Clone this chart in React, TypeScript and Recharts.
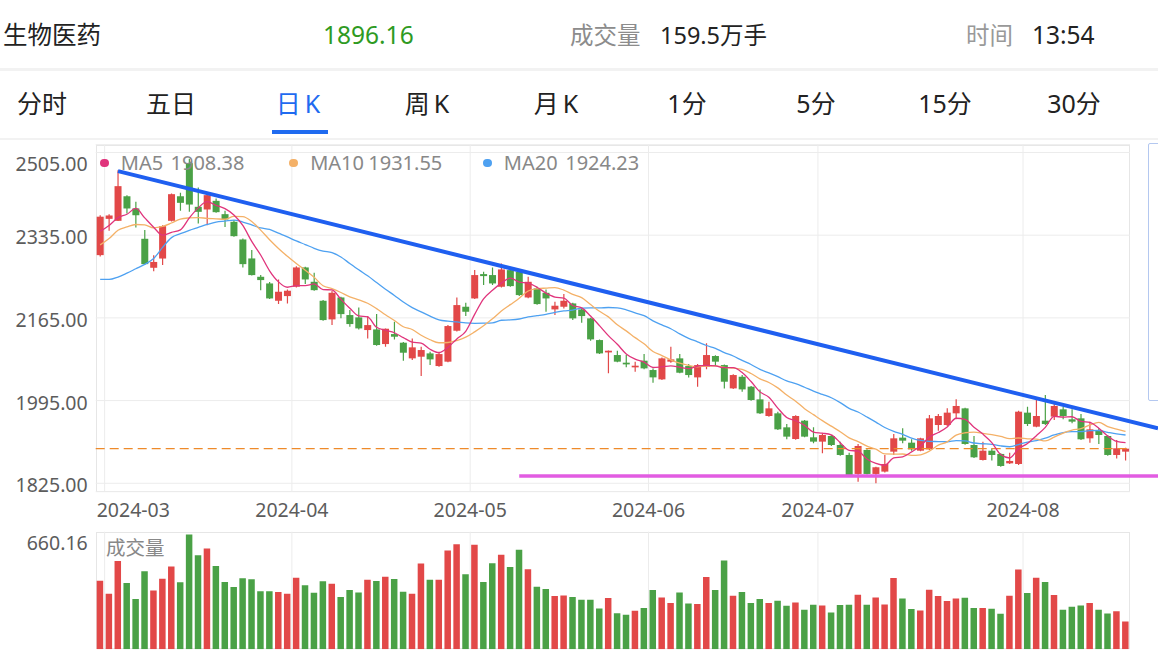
import React from 'react';
import { ComposedChart, Bar, Line, XAxis, YAxis, CartesianGrid, ReferenceLine, Cell } from 'recharts';

// trading days per month (index 0 = 2024-02-29)
const tradingDays: [string, number[]][] = [
    ['2024-02', [29]],
    ['2024-03', [1, 4, 5, 6, 7, 8, 11, 12, 13, 14, 15, 18, 19, 20, 21, 22, 25, 26, 27, 28, 29]],
    ['2024-04', [1, 2, 3, 8, 9, 10, 11, 12, 15, 16, 17, 18, 19, 22, 23, 24, 25, 26, 29, 30]],
    ['2024-05', [6, 7, 8, 9, 10, 13, 14, 15, 16, 17, 20, 21, 22, 23, 24, 27, 28, 29, 30, 31]],
    ['2024-06', [3, 4, 5, 6, 7, 11, 12, 13, 14, 17, 18, 19, 20, 21, 24, 25, 26, 27, 28]],
    ['2024-07', [1, 2, 3, 4, 5, 8, 9, 10, 11, 12, 15, 16, 17, 18, 19, 22, 23, 24, 25, 26, 29, 30, 31]],
    ['2024-08', [1, 2, 5, 6, 7, 8, 9, 12, 13, 14, 15, 16]],
];

const open = [
    2294, 2368.6, 2364.5, 2415, 2390, 2327.6, 2268, 2287, 2364.5, 2415,
    2483, 2393.3, 2387.8, 2405.6, 2378.2, 2362.5, 2326.2, 2287.2, 2249.5, 2235.8,
    2200.2, 2209.8, 2229, 2268.7, 2239.2, 2200.2, 2161.9, 2207, 2170.8, 2166,
    2140, 2141.3, 2111.2, 2131.7, 2114, 2081.8, 2085.2, 2092, 2066, 2075,
    2138.6, 2187.9, 2205, 2255, 2253, 2229, 2263.2, 2259.8, 2207, 2225.6,
    2216.6, 2182.4, 2187.9, 2194.7, 2182.4, 2164, 2119.4, 2094, 2088.6, 2072.9,
    2063.3, 2077, 2057.8, 2038.6, 2075, 2081.8, 2066, 2042.7, 2064.6, 2086.6,
    2068, 2020.1, 2044, 2023.6, 1997.5, 1963.3, 1968.8, 1940, 1916, 1953.7,
    1919.5, 1910.6, 1922.2, 1903.7, 1883.2, 1844.2, 1893.5, 1844.2, 1849, 1890,
    1918.8, 1908.5, 1892, 1894.8, 1944.8, 1944.8, 1968.8, 1979, 1903.7, 1872.9,
    1892, 1885.3, 1866, 1864.7, 1970.2, 1941.4, 1953.7, 1962, 1977, 1956.5,
    1958.5, 1917.4, 1933.2, 1922.2, 1883.2, 1890,
];
const high = [
    2376, 2378, 2468.6, 2417, 2403.6, 2345.4, 2294, 2355.6, 2420.7, 2422,
    2492, 2433, 2420.7, 2410.4, 2385, 2366, 2328, 2304.3, 2253, 2239,
    2244, 2223.5, 2271, 2270, 2257.7, 2201.6, 2220.8, 2208.4, 2181, 2186.5,
    2168.7, 2172.8, 2143.4, 2157, 2115.3, 2122.8, 2105.7, 2095.4, 2095.4, 2150.2,
    2207, 2196.1, 2263.2, 2259.8, 2268.7, 2277, 2266.6, 2263.2, 2249.5, 2229,
    2223.5, 2198.2, 2213.9, 2196.1, 2185.8, 2165.3, 2120.8, 2098, 2097.5, 2088.6,
    2075, 2090.6, 2061.2, 2083.8, 2105.7, 2090.6, 2070, 2070, 2112.6, 2088,
    2069.4, 2049, 2047.5, 2025, 2018, 1992.8, 1972.2, 1946.9, 1964.7, 1955,
    1940, 1927.7, 1924.3, 1910.6, 1888, 1905.8, 1894.8, 1859.2, 1883.2, 1926.3,
    1938, 1915.4, 1918.8, 1965.4, 1967.4, 1979, 1997.5, 1980.4, 1922.2, 1910.6,
    1896.9, 1886.6, 1888, 1974.3, 1982.5, 1997.5, 2006.4, 1988, 1982.5, 1977,
    1967.4, 1951.7, 1938, 1924.3, 1914, 1898,
];
const low = [
    2291, 2344, 2364, 2379.6, 2350.8, 2274, 2261, 2273.5, 2363, 2385,
    2383, 2359, 2355.6, 2381, 2352, 2331.7, 2268.7, 2252, 2222, 2203.6,
    2193.4, 2194.7, 2227.6, 2234.5, 2220.8, 2159, 2150.2, 2164, 2146.8, 2141,
    2122.8, 2107.8, 2105.7, 2120.8, 2077, 2078.4, 2045.5, 2068, 2064.6, 2073.6,
    2137, 2168.7, 2203.6, 2232.4, 2232.4, 2227.6, 2229, 2209.8, 2205.6, 2192,
    2177.6, 2170.8, 2184.5, 2160.5, 2155, 2118, 2090.6, 2051, 2073.6, 2063.3,
    2054.4, 2059.2, 2031.8, 2037.3, 2072.9, 2051, 2042.7, 2023.6, 2059.2, 2066,
    2020, 2019, 2013.3, 1994.8, 1967.4, 1962, 1934.5, 1915.4, 1914.7, 1919.5,
    1907.2, 1886.6, 1901.7, 1881.8, 1841, 1828.4, 1842.8, 1825, 1847, 1883.2,
    1907.2, 1892, 1891, 1893.5, 1933.2, 1942.8, 1956.5, 1904.4, 1877, 1871.6,
    1871.6, 1859.2, 1864.7, 1862.7, 1942.8, 1940, 1944.8, 1955.1, 1956.5, 1948.3,
    1914, 1908.5, 1905.8, 1881.8, 1875.7, 1871.6,
];
const close = [
    2373, 2375.5, 2435.8, 2389.9, 2376, 2275.5, 2280, 2353.6, 2419.3, 2401.5,
    2398, 2383, 2417.3, 2382.3, 2367.3, 2333, 2275.5, 2253, 2242.7, 2205,
    2218.7, 2220.8, 2268.7, 2244, 2222, 2160.5, 2216.6, 2172.8, 2152.3, 2143.4,
    2150.2, 2109.2, 2142.7, 2126.3, 2093.4, 2104.4, 2098.9, 2079.7, 2090.6, 2148.2,
    2191.3, 2177.6, 2253, 2250.9, 2235.8, 2264.6, 2230.3, 2211.9, 2239.2, 2193.4,
    2205, 2190, 2200.2, 2164, 2168.7, 2120.8, 2092, 2097.5, 2075, 2069.4,
    2066.7, 2061.2, 2042.7, 2081.8, 2079.7, 2052.3, 2047.5, 2068, 2088.6, 2075,
    2033.8, 2047.5, 2018, 1996.2, 1968.8, 1979, 1935.9, 1920.9, 1963.3, 1920.9,
    1910.6, 1924.3, 1903.7, 1883.2, 1842.1, 1901.7, 1844.2, 1857.9, 1864.7, 1917.4,
    1912.6, 1894.8, 1917.4, 1958.5, 1963.3, 1970.2, 1983.9, 1905.8, 1878.4, 1892,
    1883.2, 1860.6, 1870.9, 1972.2, 1946.9, 1963.3, 1946.9, 1983.9, 1963.3, 1951.7,
    1915.4, 1935.9, 1924.3, 1883.2, 1896.9, 1896.16,
];
// 万手
const volume = [
    394.6, 319.5, 508.1, 381.1, 288.7, 448.5, 338.7, 406.1, 475.4, 384.9,
    660.16, 540.8, 579.3, 479.3, 386.9, 358.0, 408.0, 402.3, 333.0, 333.0,
    329.1, 319.5, 411.9, 367.6, 325.3, 390.7, 377.2, 300.3, 340.7, 327.2,
    400.3, 392.6, 417.7, 404.2, 331.0, 319.5, 492.7, 400.3, 400.3, 567.8,
    604.4, 431.1, 600.5, 386.9, 494.6, 542.8, 473.5, 571.6, 460.0, 359.9,
    346.4, 306.0, 309.9, 300.3, 284.9, 284.9, 234.8, 294.5, 207.9, 198.2,
    221.3, 236.7, 340.7, 298.3, 265.6, 327.2, 263.7, 259.8, 415.7, 340.7,
    510.0, 308.0, 329.1, 265.6, 288.7, 265.6, 279.1, 250.2, 269.5, 227.1,
    256.0, 252.1, 211.7, 254.1, 256.0, 313.7, 256.0, 298.3, 257.9, 410.0,
    292.6, 231.0, 223.3, 342.6, 306.0, 277.2, 292.6, 296.4, 236.7, 236.7,
    232.9, 204.0, 308.0, 458.1, 323.3, 411.9, 386.9, 311.8, 227.1, 244.4,
    252.1, 265.6, 227.1, 205.9, 219.4, 159.5,
];
const ma5 = [
    2343, 2355, 2371, 2378, 2390.0, 2370.5, 2351.4, 2335.0, 2340.9, 2346.0,
    2370.5, 2391.1, 2403.8, 2396.4, 2389.6, 2376.6, 2355.1, 2322.2, 2294.3, 2261.8,
    2239.0, 2228.0, 2231.2, 2231.4, 2234.8, 2223.2, 2222.4, 2203.2, 2184.8, 2169.1,
    2167.1, 2145.6, 2139.6, 2134.4, 2124.4, 2115.2, 2113.1, 2100.5, 2093.4, 2104.4,
    2121.7, 2137.5, 2172.1, 2204.2, 2221.7, 2236.4, 2246.9, 2238.7, 2236.4, 2227.9,
    2216.0, 2207.9, 2205.6, 2190.5, 2185.6, 2168.7, 2149.1, 2128.6, 2110.8, 2090.9,
    2080.1, 2074.0, 2063.0, 2064.4, 2066.4, 2063.5, 2060.8, 2065.9, 2067.2, 2066.3,
    2062.6, 2062.6, 2052.6, 2034.1, 2012.9, 2001.9, 1979.6, 1960.2, 1953.6, 1944.0,
    1930.3, 1928.0, 1924.6, 1908.5, 1892.8, 1891.0, 1875.0, 1865.8, 1862.1, 1877.2,
    1879.4, 1889.5, 1901.4, 1920.1, 1929.3, 1940.8, 1958.7, 1956.3, 1940.3, 1926.1,
    1908.7, 1884.0, 1877.0, 1895.8, 1906.8, 1922.8, 1940.0, 1962.6, 1960.9, 1961.8,
    1952.2, 1950.0, 1938.1, 1922.1, 1911.1, 1908.38,
];
const ma10 = [
    2315, 2328, 2345, 2352, 2357, 2356, 2350, 2353, 2360, 2368.0,
    2370.5, 2371.3, 2369.4, 2368.7, 2367.8, 2373.5, 2373.1, 2363.0, 2345.4, 2325.7,
    2307.8, 2291.6, 2276.7, 2262.9, 2248.3, 2231.1, 2225.2, 2217.2, 2208.1, 2202.0,
    2195.1, 2184.0, 2171.4, 2159.6, 2146.7, 2141.1, 2129.4, 2120.1, 2113.9, 2114.4,
    2118.5, 2125.3, 2136.3, 2148.8, 2163.0, 2179.1, 2192.2, 2205.4, 2220.3, 2224.8,
    2226.2, 2227.4, 2222.1, 2213.4, 2206.7, 2192.4, 2178.5, 2167.1, 2150.7, 2138.3,
    2124.4, 2111.6, 2095.8, 2087.6, 2078.7, 2071.8, 2067.4, 2064.4, 2065.8, 2066.4,
    2063.1, 2061.7, 2059.2, 2050.7, 2039.6, 2032.2, 2021.1, 2006.4, 1993.8, 1978.4,
    1966.1, 1953.8, 1942.4, 1931.1, 1918.4, 1910.7, 1901.5, 1895.2, 1885.3, 1885.0,
    1885.2, 1882.2, 1883.6, 1891.1, 1903.3, 1910.1, 1924.1, 1928.9, 1930.2, 1927.7,
    1924.8, 1921.3, 1916.7, 1918.1, 1916.4, 1915.7, 1912.0, 1919.8, 1928.3, 1934.3,
    1937.5, 1945.0, 1950.4, 1941.5, 1936.5, 1931.55,
];
const ma20 = [
    2244, 2244, 2249, 2257, 2266, 2275, 2287, 2310, 2330, 2338,
    2345, 2351, 2357, 2362, 2364, 2366, 2362, 2356, 2350, 2346.9,
    2339.1, 2331.4, 2323.1, 2315.8, 2308.1, 2302.3, 2299.1, 2290.1, 2276.8, 2263.8,
    2251.5, 2237.8, 2224.0, 2211.2, 2197.5, 2186.1, 2177.3, 2168.6, 2161.0, 2158.2,
    2156.8, 2154.6, 2153.9, 2154.2, 2154.9, 2160.1, 2160.8, 2162.7, 2167.1, 2169.6,
    2172.3, 2176.4, 2179.2, 2181.1, 2184.9, 2185.7, 2185.4, 2186.3, 2185.5, 2181.5,
    2175.3, 2169.5, 2159.0, 2150.5, 2142.7, 2132.1, 2123.0, 2115.8, 2108.2, 2102.3,
    2093.7, 2086.6, 2077.5, 2069.1, 2059.1, 2052.0, 2044.2, 2035.4, 2029.8, 2022.4,
    2014.6, 2007.7, 2000.8, 1990.9, 1979.0, 1971.5, 1961.3, 1950.8, 1939.6, 1931.7,
    1925.6, 1918.0, 1913.0, 1911.1, 1910.8, 1910.4, 1912.8, 1912.0, 1907.8, 1906.3,
    1905.0, 1901.8, 1900.1, 1904.6, 1909.8, 1912.9, 1918.0, 1924.3, 1929.3, 1931.0,
    1931.1, 1933.2, 1933.5, 1929.8, 1926.4, 1924.23,
];

const priceTicks = [1825, 1995, 2165, 2335, 2505];
const volumeMax = 660.16;
const lastPrice = 1896.16;
const tabs = ['分时', '五日', '日K', '周K', '月K', '1分', '5分', '15分', '30分'];
// drawn lines: trend line over highs, support line
const trendLine = [{ idx: 2, price: 2466.6 }, { idx: 115, price: 1954.5 }];
const supportLine = [{ idx: 47, price: 1840 }, { idx: 115, price: 1840 }];

const dates = tradingDays.flatMap(([m, days]) => days.map((d) => `${m}-${String(d).padStart(2, '0')}`));
const rows = dates.map((date, i) => ({
    date,
    open: open[i],
    high: high[i],
    low: low[i],
    close: close[i],
    volume: volume[i],
    ma5: ma5[i],
    ma10: ma10[i],
    ma20: ma20[i],
}));
const monthStarts = dates.filter((d, i) => i > 0 && d.slice(0, 7) !== dates[i - 1].slice(0, 7));

const RED = '#e24848';
const GREEN = '#4aa146';
const MA5_C = '#e0347c';
const MA10_C = '#f4b168';
const MA20_C = '#4ea1f1';
const GRID = '#ececec';
const FONT = '"Noto Sans", "Noto Sans CJK SC", sans-serif';
const PLOT_L = 95.7;
const PLOT_R = 1130;

const Candle = (props: any) => {
    const { x, y, width, height, payload } = props;
    if (x == null || !payload) return null;
    const top = Math.min(y, y + height);
    const h = Math.abs(height);
    const span = payload.high - payload.low || 1;
    const py = (v: number) => top + ((payload.high - v) / span) * h;
    const color = payload.close >= payload.open ? RED : GREEN;
    const bTop = py(Math.max(payload.open, payload.close));
    const bBot = py(Math.min(payload.open, payload.close));
    const cx = x + width / 2;
    return (
        <g>
            <line x1={cx} x2={cx} y1={top} y2={top + h} stroke={color} strokeWidth={1.2} />
            <rect x={x} y={bTop} width={width} height={Math.max(1, bBot - bTop)} fill={color} />
        </g>
    );
};

// carry a drawn line on to the right edge of the picture
const extendedLine = (color: string, width: number) => (p: any) => {
    const { x1, y1, x2, y2 } = p;
    const xe = 1158;
    const ye = x2 === x1 ? y2 : y2 + ((y2 - y1) / (x2 - x1)) * (xe - x2);
    return <line x1={x1} y1={y1} x2={xe} y2={ye} stroke={color} strokeWidth={width} />;
};

const PriceTick = (props: any) => {
    const { x, y, payload } = props;
    const shift = payload.value === 2505 ? 10.8 : 1.5;
    return (
        <text x={x} y={y + shift} textAnchor="end" dominantBaseline="central" fontSize={19.5} fill="#5c5c5c" fontFamily={FONT}>
            {Number(payload.value).toFixed(2)}
        </text>
    );
};

const MonthTick = (props: any) => {
    const { x, y, payload } = props;
    if (!monthStarts.includes(payload.value)) return <g />;
    const half = payload.offset ?? 4.46;
    let cx = x - half;
    let anchor: 'middle' | 'start' = 'middle';
    if (cx - 40 < PLOT_L) {
        cx = PLOT_L + 1;
        anchor = 'start';
    }
    return (
        <text x={cx} y={y + 9.6} textAnchor={anchor} dominantBaseline="central" fontSize={19.5} fill="#5c5c5c" fontFamily={FONT}>
            {String(payload.value).slice(0, 7)}
        </text>
    );
};

const VolumeTick = (props: any) => {
    const { x, y, payload } = props;
    const top = payload.value > 0;
    return (
        <text x={x} y={top ? y + 8.5 : y - 11.3} textAnchor="end" dominantBaseline="central" fontSize={19.5} fill="#5c5c5c" fontFamily={FONT}>
            {top ? volumeMax.toFixed(2) : '万手'}
        </text>
    );
};

const abs = (s: React.CSSProperties): React.CSSProperties => ({ position: 'absolute', whiteSpace: 'nowrap', ...s });

const App = () => {
    const last = rows.length - 1;
    const legend = [
        { name: 'MA5', value: ma5[last], color: MA5_C, dot: 104.3, label: 120.8, num: 170.5 },
        { name: 'MA10', value: ma10[last], color: MA10_C, dot: 293.3, label: 310.2, num: 368.3 },
        { name: 'MA20', value: ma20[last], color: MA20_C, dot: 487.4, label: 503.8, num: 565.2 },
    ];
    return (
        <div style={{ position: 'absolute', left: 0, top: 0, width: 1158, height: 658, overflow: 'hidden', background: '#fff', fontFamily: FONT }}>
            {/* header */}
            <div style={abs({ left: 3, top: 20, fontSize: 24.5, lineHeight: '30px', color: '#222' })}>生物医药</div>
            <div style={abs({ left: 323, top: 20, fontSize: 24.5, lineHeight: '30px', color: '#2e9a22' })}>{lastPrice.toFixed(2)}</div>
            <div style={abs({ left: 570, top: 20, fontSize: 23.5, lineHeight: '30px', color: '#8c8c8c' })}>成交量</div>
            <div style={abs({ left: 660, top: 20, fontSize: 23.5, lineHeight: '30px', color: '#222' })}>159.5万手</div>
            <div style={abs({ left: 966, top: 20, fontSize: 23.5, lineHeight: '30px', color: '#999' })}>时间</div>
            <div style={abs({ left: 1032, top: 20, fontSize: 24.5, lineHeight: '30px', color: '#222' })}>13:54</div>
            <div style={abs({ left: 0, top: 68, width: 1158, height: 3, background: '#f2f2f2' })} />

            {/* period tabs */}
            {tabs.map((t, i) => (
                <div
                    key={t}
                    style={abs({
                        left: 42 + 129 * i - 60,
                        width: 120,
                        top: 88,
                        fontSize: 25,
                        lineHeight: '30px',
                        textAlign: 'center',
                        color: t === '日K' ? '#1f6bf0' : '#222',
                        letterSpacing: /K$/.test(t) ? 4 : 0,
                    })}
                >
                    {t}
                </div>
            ))}
            <div style={abs({ left: 272, top: 130, width: 56, height: 3.5, background: '#1f6bf0' })} />
            <div style={abs({ left: 0, top: 138, width: 1158, height: 2, background: '#f2f2f2' })} />

            {/* plot frames */}
            <div style={abs({ left: PLOT_L, top: 144.7, width: PLOT_R - PLOT_L, height: 491.7 - 144.7, border: '1px solid #e6e6e6', boxSizing: 'border-box' })} />
            <div style={abs({ left: PLOT_L, top: 531.7, width: PLOT_R - PLOT_L, height: 649.3 - 531.7, border: '1px solid #e6e6e6', boxSizing: 'border-box' })} />
            <div style={abs({ left: 1147.5, top: 143.3, width: 40, height: 257.4, border: '1.5px solid #b4c8f0', boxSizing: 'border-box', borderRadius: 2 })} />

            {/* price chart */}
            <div style={abs({ left: 0, top: 140, width: 1158, height: 390 })}>
                <ComposedChart width={1158} height={390} data={rows} margin={{ top: 4.7, right: 28, bottom: 8.3, left: 0 }}>
                    <CartesianGrid vertical={false} stroke={GRID} />
                    <XAxis dataKey="date" interval={0} tickLine={false} axisLine={false} height={30} tick={MonthTick} />
                    <YAxis type="number" domain={[1807.7, 2521]} ticks={priceTicks} width={PLOT_L} tickLine={false} axisLine={false} allowDataOverflow tick={PriceTick} />
                    {monthStarts.map((d) => (
                        <ReferenceLine key={d} x={d} position="start" stroke={GRID} />
                    ))}
                    <ReferenceLine y={lastPrice} stroke="#ee8a2a" strokeWidth={1.4} strokeDasharray="9 5" />
                    <Bar dataKey={(d: any) => [d.low, d.high]} barSize={7} shape={Candle} isAnimationActive={false} />
                    <Line type="monotone" dataKey="ma20" stroke={MA20_C} strokeWidth={1.3} dot={false} activeDot={false} isAnimationActive={false} />
                    <Line type="monotone" dataKey="ma10" stroke={MA10_C} strokeWidth={1.3} dot={false} activeDot={false} isAnimationActive={false} />
                    <Line type="monotone" dataKey="ma5" stroke={MA5_C} strokeWidth={1.3} dot={false} activeDot={false} isAnimationActive={false} />
                    <ReferenceLine
                        segment={supportLine.map((p) => ({ x: dates[p.idx], y: p.price }))}
                        ifOverflow="visible"
                        shape={extendedLine('#e25ce2', 3.5)}
                    />
                    <ReferenceLine
                        segment={trendLine.map((p) => ({ x: dates[p.idx], y: p.price }))}
                        ifOverflow="visible"
                        shape={extendedLine('#1f5ff0', 4)}
                    />
                </ComposedChart>
            </div>

            {/* MA legend */}
            {legend.map((l) => (
                <React.Fragment key={l.name}>
                    <div style={abs({ left: l.dot - 4.3, top: 163 - 4.3, width: 8.6, height: 8.6, borderRadius: '50%', background: l.color })} />
                    <div style={abs({ left: l.label, top: 149, fontSize: 20, lineHeight: '28px', color: '#888' })}>{l.name}</div>
                    <div style={abs({ left: l.num, top: 149, fontSize: 20, lineHeight: '28px', color: '#888' })}>{l.value.toFixed(2)}</div>
                </React.Fragment>
            ))}

            {/* volume chart */}
            <div style={abs({ left: 0, top: 525, width: 1158, height: 133 })}>
                <ComposedChart width={1158} height={133} data={rows} margin={{ top: 6.7, right: 28, bottom: 8.7, left: 0 }}>
                    <XAxis dataKey="date" hide />
                    <YAxis type="number" domain={[0, 676]} ticks={[0, volumeMax]} width={PLOT_L} tickLine={false} axisLine={false} allowDataOverflow tick={VolumeTick} />
                    {monthStarts.map((d) => (
                        <ReferenceLine key={d} x={d} position="start" stroke={GRID} />
                    ))}
                    <Bar dataKey="volume" barSize={6.5} isAnimationActive={false}>
                        {rows.map((r, i) => (
                            <Cell key={`v-${i}`} fill={r.close >= r.open ? RED : GREEN} />
                        ))}
                    </Bar>
                </ComposedChart>
            </div>
            <div style={abs({ left: 106, top: 534, fontSize: 19.5, lineHeight: '28px', color: '#888' })}>成交量</div>
        </div>
    );
};

export default App;
